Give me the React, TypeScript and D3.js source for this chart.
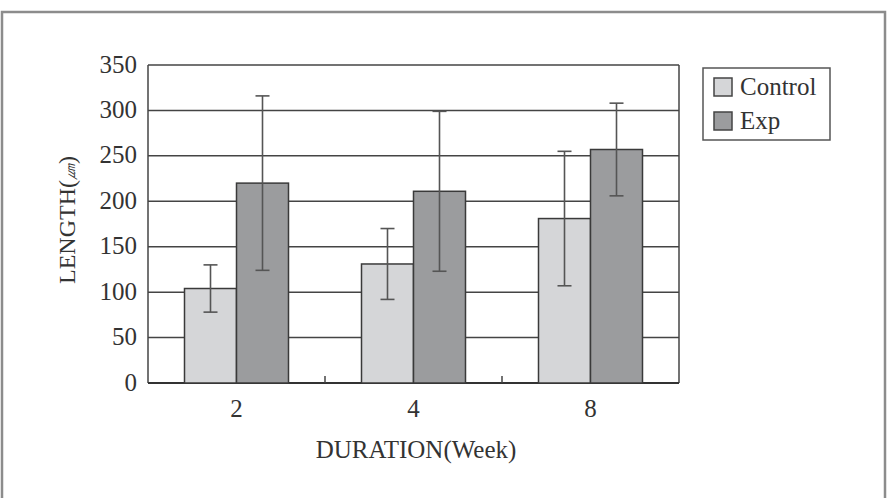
import React from 'react';
import {scaleBand, scaleLinear, range} from 'd3';

// durées (semaines) et séries
const weeks = ['2', '4', '8'];
const seriesNames = ['Control', 'Exp'];
const controlMean = [104, 131, 181];
const controlSd = [26, 39, 74];
const expMean = [220, 211, 257];
const expSd = [96, 88, 51];
const yTicks = [0, 50, 100, 150, 200, 250, 300, 350];

const colors = ['#d5d6d8', '#9b9c9e'];

export default function App() {
  const width = 890;
  const height = 498;
  const left = 148;
  const right = 679;
  const top = 65;
  const bottom = 383;
  const font = '"Liberation Serif", "Times New Roman", serif';

  const x = scaleBand<string>().domain(weeks).range([left, right]);
  const inner = scaleBand<string>()
    .domain(seriesNames)
    .range([0, 104])
    .padding(0);
  const y = scaleLinear().domain([0, 350]).range([bottom, top]);

  const series = [
    {name: seriesNames[0], mean: controlMean, sd: controlSd},
    {name: seriesNames[1], mean: expMean, sd: expSd}
  ];

  return (
    <svg
      width={width}
      height={height}
      style={{position: 'absolute', left: 0, top: 0, background: '#fff'}}
    >
      {/* cadre extérieur */}
      <path
        d={`M2,${height + 2} V12 H885 V${height + 2}`}
        fill="none"
        stroke="#8c8c8c"
        strokeWidth={2.5}
      />

      {/* grille */}
      {yTicks.slice(1).map(t => (
        <line key={t} x1={left} x2={right} y1={y(t)} y2={y(t)} stroke="#444" strokeWidth={1.5} />
      ))}
      <line x1={left} x2={left} y1={top} y2={bottom} stroke="#444" strokeWidth={1.5} />
      <line x1={right} x2={right} y1={top} y2={bottom} stroke="#444" strokeWidth={1.5} />
      <line x1={left} x2={right} y1={bottom} y2={bottom} stroke="#333" strokeWidth={2} />
      {range(1, weeks.length).map(i => (
        <line
          key={i}
          x1={left + i * x.bandwidth()}
          x2={left + i * x.bandwidth()}
          y1={bottom}
          y2={bottom - 7}
          stroke="#444"
          strokeWidth={1.5}
        />
      ))}

      {/* barres */}
      {weeks.map((w, i) => {
        const x0 = (x(w) as number) + x.bandwidth() / 2 - 52;
        return series.map((s, j) => {
          const bx = x0 + (inner(s.name) as number);
          const bw = inner.bandwidth();
          const v = s.mean[i];
          return (
            <rect
              key={w + s.name}
              x={bx}
              y={y(v)}
              width={bw}
              height={bottom - y(v)}
              fill={colors[j]}
              stroke="#3a3a3a"
              strokeWidth={1.5}
            />
          );
        });
      })}

      {/* barres d'erreur */}
      {weeks.map((w, i) => {
        const x0 = (x(w) as number) + x.bandwidth() / 2 - 52;
        return series.map(s => {
          const cx = x0 + (inner(s.name) as number) + inner.bandwidth() / 2;
          const hi = y(s.mean[i] + s.sd[i]);
          const lo = y(s.mean[i] - s.sd[i]);
          return (
            <g key={'e' + w + s.name} stroke="#555" strokeWidth={1.6}>
              <line x1={cx} x2={cx} y1={hi} y2={lo} />
              <line x1={cx - 7} x2={cx + 7} y1={hi} y2={hi} />
              <line x1={cx - 7} x2={cx + 7} y1={lo} y2={lo} />
            </g>
          );
        });
      })}

      {/* axe y */}
      {yTicks.map(t => (
        <text
          key={t}
          x={137}
          y={y(t)}
          dy="0.3em"
          textAnchor="end"
          fontFamily={font}
          fontSize={25}
          fill="#333"
        >
          {t}
        </text>
      ))}

      {/* axe x */}
      {weeks.map(w => (
        <text
          key={w}
          x={(x(w) as number) + x.bandwidth() / 2}
          y={417}
          textAnchor="middle"
          fontFamily={font}
          fontSize={25}
          fill="#333"
        >
          {w}
        </text>
      ))}
      <text x={416} y={458} textAnchor="middle" fontFamily={font} fontSize={25} fill="#333">
        DURATION(Week)
      </text>
      <text
        transform="translate(75,220) rotate(-90)"
        textAnchor="middle"
        fontFamily={font}
        fontSize={24}
        fill="#333"
      >
        LENGTH(<tspan fontSize={16} fontStyle="italic">㎛</tspan>)
      </text>

      {/* légende */}
      <rect x={703} y={68} width={127} height={72} fill="#fff" stroke="#555" strokeWidth={1.5} />
      {series.map((s, j) => (
        <g key={'l' + s.name}>
          <rect
            x={714}
            y={78 + j * 34}
            width={18}
            height={18}
            fill={colors[j]}
            stroke="#444"
            strokeWidth={1.5}
          />
          <text x={740} y={95 + j * 34} fontFamily={font} fontSize={25} fill="#333">
            {s.name}
          </text>
        </g>
      ))}
    </svg>
  );
}
